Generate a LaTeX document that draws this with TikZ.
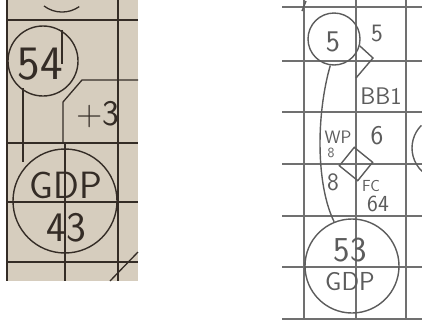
\documentclass[tikz,border=0pt]{standalone}
\usepackage{xcolor}
\usepackage{tikz}
\usetikzlibrary{shapes,positioning}

\definecolor{paper}{RGB}{214,205,190}
\definecolor{ink}{RGB}{52,44,38}
\definecolor{gridgray}{RGB}{112,112,112}
\definecolor{pencil}{RGB}{92,92,92}

\newcommand{\handfont}[1]{\fontsize{#1}{#1}\selectfont\sffamily}

\begin{document}
\begin{tikzpicture}[x=1pt, y=-1pt,
    thickline/.style={draw=ink, line width=2.4pt},
    thinline/.style={draw=ink, line width=1.3pt},
    gridthick/.style={draw=gridgray, line width=2pt},
    gridthin/.style={draw=gridgray, line width=1.3pt},
    pencilline/.style={draw=pencil, line width=1.4pt},
    ball/.style={circle, draw=ink, line width=1.4pt, inner sep=0pt},
    pball/.style={circle, draw=pencil, line width=1.4pt, inner sep=0pt},
    base/.style={diamond, draw=pencil, line width=1.4pt, inner sep=0pt, minimum size=34, rotate=6},
    inklabel/.style={text=ink, inner sep=0pt},
    pencillabel/.style={text=pencil, inner sep=0pt}
]

\useasboundingbox (0,0) rectangle (422,322);
\fill[paper] (6,0) rectangle (138,281);

\draw[thickline] (7,0) -- (7,281);
\draw[thickline] (118,0) -- (118,281);
\foreach \y in {20,143,262} \draw[thickline] (7,\y) -- (138,\y);
\draw[thinline] (7,202) -- (138,202);
\draw[thinline] (23,88) -- (23,162);
\draw[thinline] (62,30) -- (62,64);
\draw[thinline] (65,143) -- (65,281);
\draw[thinline] (63,143) -- (63,102) -- (82,80) -- (138,80);
\draw[thinline] (110,281) -- (138,252);
\draw[thinline] (44,6) arc[start angle=127, end angle=55, radius=30];

\node[ball, minimum size=70] (out54) at (43,61) {};
\node[ball, minimum size=104] (gdp43) at (65,201) {};
\node[inklabel] (lbl54) at (40,64) {\handfont{48}54};
\node[inklabel] (plus3) at (98,115) {\handfont{36}+3};
\node[inklabel] (lblgdp) at (66,185) {\handfont{38}GDP};
\node[inklabel] (lbl43) at (66,228) {\handfont{42}43};

\foreach \y in {7,61,112,164,216,267,319} \draw[gridthin] (282,\y) -- (422,\y);
\foreach \x in {304,406} \draw[gridthick] (\x,0) -- (\x,319);
\draw[gridthin] (356,0) -- (356,319);
\draw[pencilline] (302,11) -- (306,1);
\draw[pencilline] ([shift={(225:32)}]444,148) arc[start angle=225, end angle=133, radius=32];

\node[pball, minimum size=52] (run5) at (334,39) {};
\node[pball, minimum size=94] (gdp53) at (352,266) {};
\node[base] (bag) at (356,164) {};

\draw[pencilline] (run5.-15) -- (373,58) -- (356,78);
\draw[pencilline] (run5.-98) .. controls (316,115) and (316,185) .. (gdp53.112);

\node[pencillabel] (lbl5) at (333,42) {\handfont{30}5};
\node[pencillabel] (pitch5) at (377,33) {\handfont{25}5};
\node[pencillabel] (bb1) at (381,96) {\handfont{24}BB1};
\node[pencillabel] (wp) at (338,137) {\handfont{18}WP};
\node[pencillabel] (wp8) at (331,153) {\handfont{14}8};
\node[pencillabel] (pitch6) at (377,136) {\handfont{27}6};
\node[pencillabel] (lbl8) at (333,182) {\handfont{25}8};
\node[pencillabel] (fc) at (371,186) {\handfont{16}FC};
\node[pencillabel] (fc64) at (378,204) {\handfont{23}64};
\node[pencillabel] (lbl53) at (350,250) {\handfont{35}53};
\node[pencillabel] (lblgdp53) at (350,282) {\handfont{26}GDP};

\end{tikzpicture}
\end{document}
